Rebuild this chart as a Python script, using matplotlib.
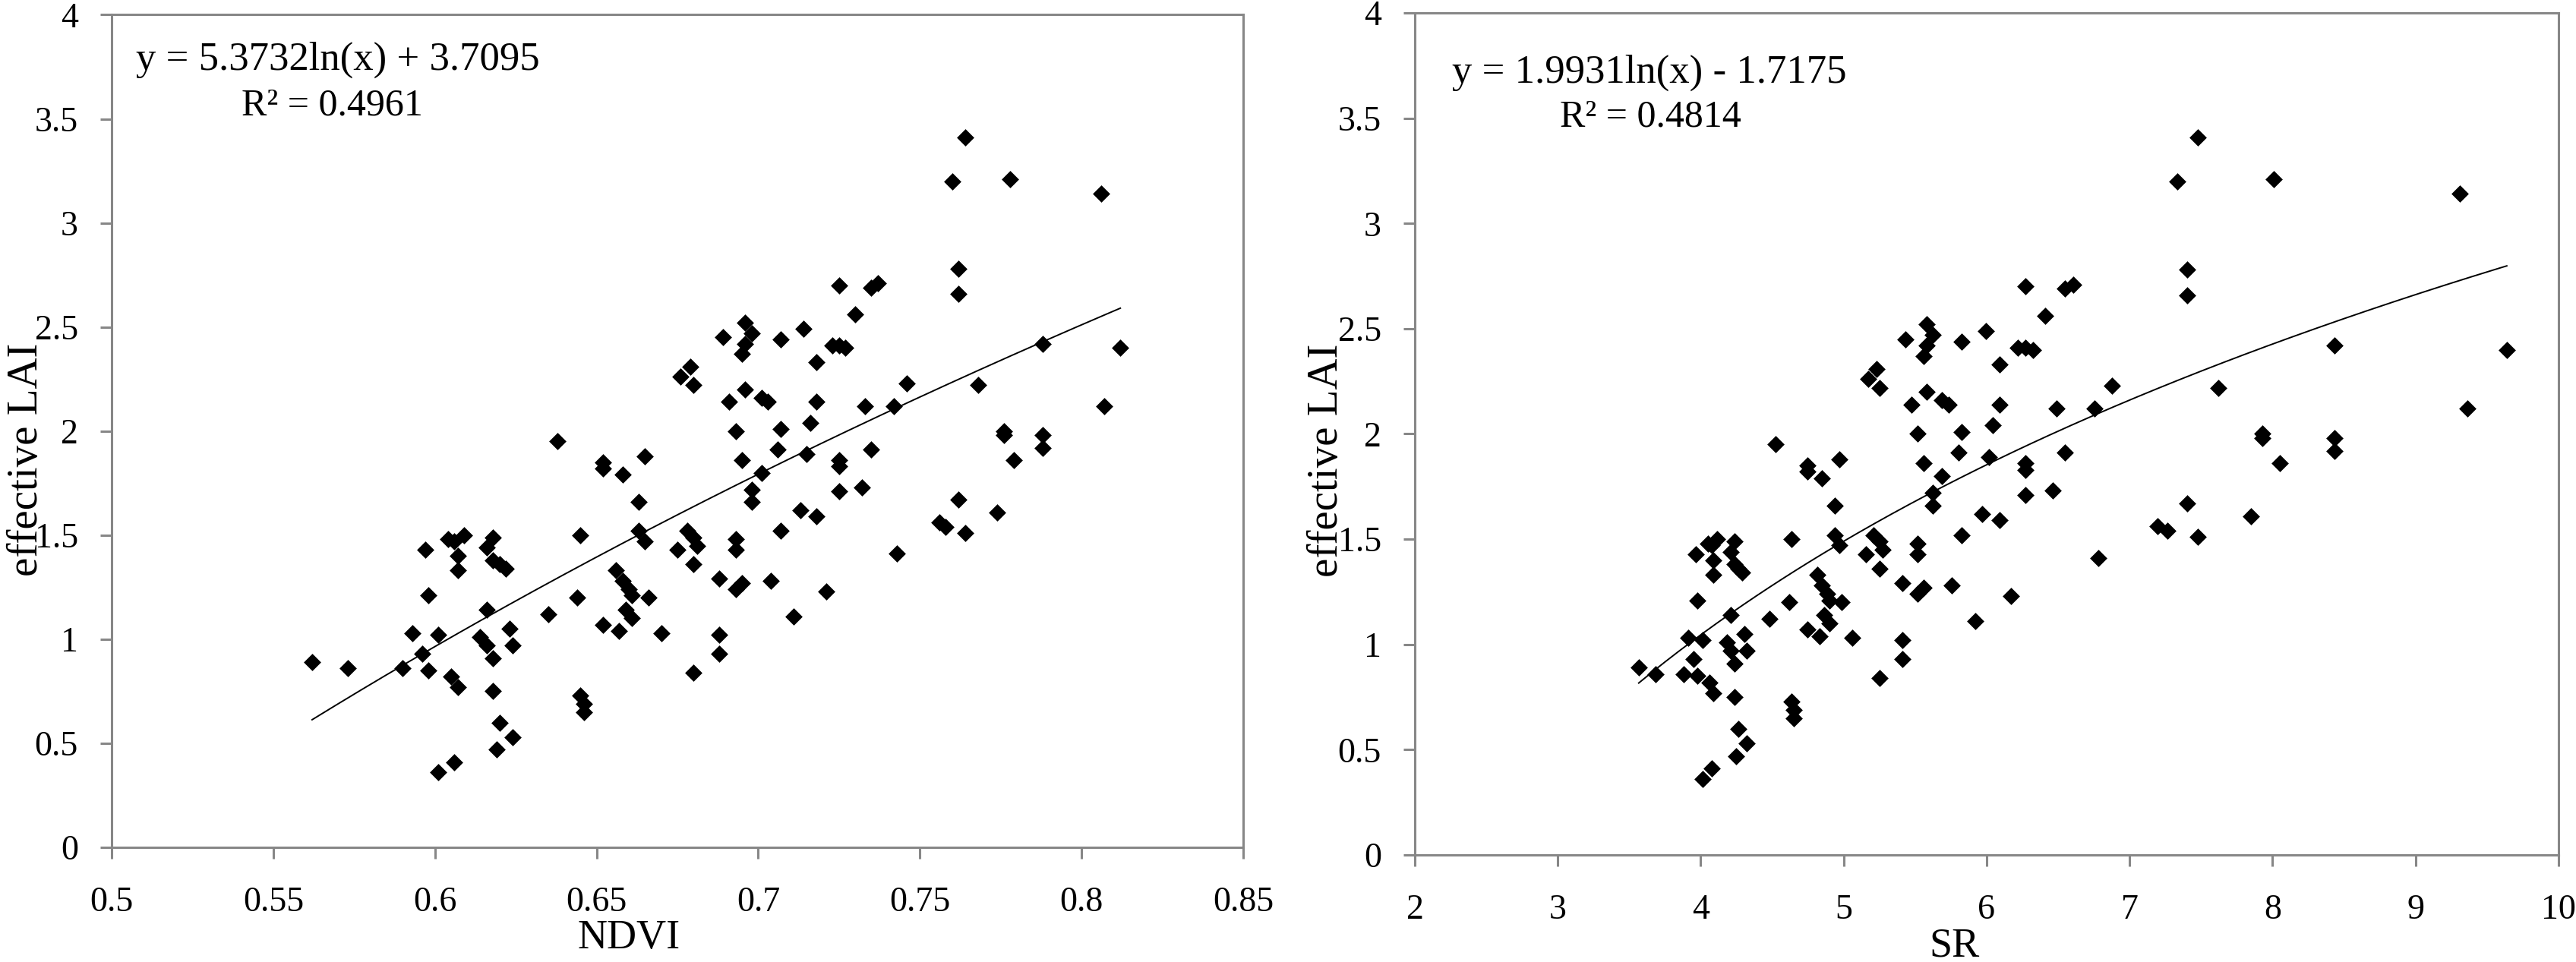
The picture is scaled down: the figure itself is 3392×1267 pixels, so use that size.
import numpy as np
import matplotlib
matplotlib.use("Agg")
import matplotlib.pyplot as plt

plt.rcParams['font.family'] = ['Liberation Serif', 'DejaVu Serif']

# datos (mismo orden en las tres listas)
ndvi = [0.562, 0.573, 0.590, 0.593, 0.596, 0.598, 0.597, 0.598, 0.601, 0.601,
        0.606, 0.605, 0.607, 0.604, 0.606, 0.609, 0.607, 0.607, 0.618, 0.616,
        0.618, 0.620, 0.622, 0.616, 0.614, 0.616, 0.618, 0.623, 0.624, 0.618,
        0.620, 0.624, 0.619, 0.638, 0.652, 0.652, 0.658, 0.665, 0.663, 0.663,
        0.665, 0.645, 0.644, 0.635, 0.656, 0.658, 0.660, 0.661, 0.659, 0.661,
        0.652, 0.657, 0.666, 0.670, 0.645, 0.646, 0.646, 0.678, 0.680, 0.681,
        0.675, 0.680, 0.680, 0.688, 0.688, 0.688, 0.693, 0.693, 0.695, 0.693,
        0.704, 0.711, 0.721, 0.707, 0.713, 0.718, 0.698, 0.698, 0.701, 0.695,
        0.706, 0.715, 0.725, 0.725, 0.725, 0.732, 0.735, 0.693, 0.707, 0.716,
        0.696, 0.691, 0.701, 0.703, 0.718, 0.733, 0.742, 0.746, 0.676, 0.679,
        0.680, 0.689, 0.696, 0.698, 0.696, 0.695, 0.707, 0.714, 0.718, 0.723,
        0.725, 0.727, 0.725, 0.730, 0.735, 0.737, 0.743, 0.756, 0.758, 0.762,
        0.764, 0.774, 0.779, 0.776, 0.776, 0.788, 0.788, 0.788, 0.768, 0.807,
        0.812, 0.760, 0.764, 0.778, 0.806, 0.762, 0.762]

sr = [3.566, 3.684, 3.878, 3.914, 3.950, 3.975, 3.963, 3.975, 4.013, 4.013,
      4.076, 4.063, 4.089, 4.051, 4.076, 4.115, 4.089, 4.089, 4.236, 4.208,
      4.236, 4.263, 4.291, 4.208, 4.181, 4.208, 4.236, 4.305, 4.319, 4.236,
      4.263, 4.319, 4.249, 4.525, 4.747, 4.747, 4.848, 4.970, 4.935, 4.935,
      4.970, 4.634, 4.618, 4.479, 4.814, 4.848, 4.882, 4.900, 4.865, 4.900,
      4.747, 4.831, 4.988, 5.061, 4.634, 4.650, 4.650, 5.211, 5.250, 5.270,
      5.154, 5.250, 5.250, 5.410, 5.410, 5.410, 5.515, 5.515, 5.557, 5.515,
      5.757, 5.920, 6.168, 5.826, 5.969, 6.092, 5.623, 5.623, 5.689, 5.557,
      5.803, 6.018, 6.273, 6.273, 6.273, 6.463, 6.547, 5.515, 5.826, 6.042,
      5.579, 5.472, 5.689, 5.734, 6.092, 6.491, 6.752, 6.874, 5.173, 5.231,
      5.250, 5.431, 5.579, 5.623, 5.579, 5.557, 5.826, 5.993, 6.092, 6.220,
      6.273, 6.326, 6.273, 6.407, 6.547, 6.605, 6.782, 7.197, 7.264, 7.403,
      7.475, 7.850, 8.050, 7.929, 7.929, 8.434, 8.434, 8.434, 7.621, 9.363,
      9.638, 7.333, 7.475, 8.009, 9.309, 7.403, 7.403]

lai = [0.89, 0.86, 0.86, 1.03, 0.93, 0.85, 1.43, 1.21, 1.02, 0.36,
       0.41, 0.82, 0.77, 1.48, 1.47, 1.50, 1.40, 1.33, 1.49, 1.44,
       1.38, 1.36, 1.34, 1.14, 1.01, 0.97, 0.91, 1.05, 0.97, 0.75,
       0.60, 0.53, 0.47, 1.95, 1.85, 1.82, 1.79, 1.88, 1.66, 1.52,
       1.47, 1.50, 1.20, 1.12, 1.33, 1.28, 1.24, 1.21, 1.14, 1.10,
       1.07, 1.04, 1.20, 1.03, 0.73, 0.69, 0.65, 1.52, 1.49, 1.45,
       1.43, 1.36, 0.84, 1.02, 0.93, 1.29, 1.48, 1.43, 1.27, 1.24,
       1.28, 1.11, 1.23, 1.52, 1.62, 1.59, 1.72, 1.66, 1.80, 1.86,
       1.91, 1.89, 1.86, 1.83, 1.71, 1.73, 1.91, 2.00, 2.01, 2.04,
       2.20, 2.14, 2.16, 2.14, 2.14, 2.12, 2.12, 2.23, 2.26, 2.31,
       2.22, 2.45, 2.52, 2.47, 2.42, 2.37, 2.44, 2.49, 2.33, 2.41,
       2.41, 2.40, 2.70, 2.56, 2.69, 2.71, 1.41, 1.56, 1.54, 1.67,
       1.51, 1.61, 1.86, 2.00, 1.98, 1.98, 1.92, 2.42, 2.22, 2.12,
       2.40, 3.20, 3.41, 3.21, 3.14, 2.78, 2.66]

# coeficientes de la linea de tendencia (y = a ln(x) + b)
ajuste_ndvi = (5.3732, 3.7095)
ajuste_sr = (1.9931, -1.7175)

ndvi_ticks = [0.5, 0.55, 0.6, 0.65, 0.7, 0.75, 0.8, 0.85]
ndvi_labels = ['0.5', '0.55', '0.6', '0.65', '0.7', '0.75', '0.8', '0.85']
sr_ticks = [2, 3, 4, 5, 6, 7, 8, 9, 10]
sr_labels = ['2', '3', '4', '5', '6', '7', '8', '9', '10']
lai_ticks = [0, 0.5, 1, 1.5, 2, 2.5, 3, 3.5, 4]
lai_labels = ['0', '0.5', '1', '1.5', '2', '2.5', '3', '3.5', '4']

GRIS = '#878787'


def dibujar_panel(ax, x, y, ajuste, xticks, xlabels, xlabel, textos, pos_texto):
    ax.scatter(x, y, marker='D', s=135, color='black', linewidths=0, zorder=2)

    xs = np.linspace(min(x), max(x), 200)
    ax.plot(xs, ajuste[0] * np.log(xs) + ajuste[1], color='black', lw=1.4, zorder=3)

    ax.set_xlim(xticks[0], xticks[-1])
    ax.set_ylim(0, 4)
    ax.set_xticks(xticks)
    ax.set_xticklabels(xlabels)
    ax.set_yticks(lai_ticks)
    ax.set_yticklabels(lai_labels)

    for lado in ax.spines.values():
        lado.set_color(GRIS)
        lado.set_linewidth(2.2)
    ax.tick_params(direction='out', length=10.8, width=2.2, color=GRIS,
                   labelsize=33, labelcolor='black')
    ax.tick_params(axis='y', pad=21)
    ax.tick_params(axis='x', pad=26)

    ax.set_xlabel(xlabel, fontsize=39)
    ax.set_ylabel('effective LAI', fontsize=41)

    # ecuacion y R2 de la tendencia
    for texto, tam, (px, py) in zip(textos, [38, 36], pos_texto):
        ax.text(px, py, texto, transform=ax.transAxes, fontsize=tam,
                ha='center', va='baseline')


fig = plt.figure(figsize=(33.92, 12.67), dpi=100)

ax1 = fig.add_axes([0.04334, 0.11918, 0.43927, 0.86543])
dibujar_panel(ax1, ndvi, lai, ajuste_ndvi, ndvi_ticks, ndvi_labels, 'NDVI',
              ['y = 5.3732ln(x) + 3.7095', 'R² = 0.4961'],
              [(0.200, 0.934), (0.195, 0.880)])
ax1.xaxis.set_label_coords(0.457, -0.086)
ax1.yaxis.set_label_coords(-0.0577, 0.466)

ax2 = fig.add_axes([0.54923, 0.11129, 0.44399, 0.87529])
dibujar_panel(ax2, sr, lai, ajuste_sr, sr_ticks, sr_labels, 'SR',
              ['y = 1.9931ln(x) - 1.7175', 'R² = 0.4814'],
              [(0.205, 0.917), (0.206, 0.865)])
ax2.xaxis.set_label_coords(0.472, -0.086)
ax2.yaxis.set_label_coords(-0.0598, 0.469)

plt.savefig('out.png', dpi=100)
plt.close()
